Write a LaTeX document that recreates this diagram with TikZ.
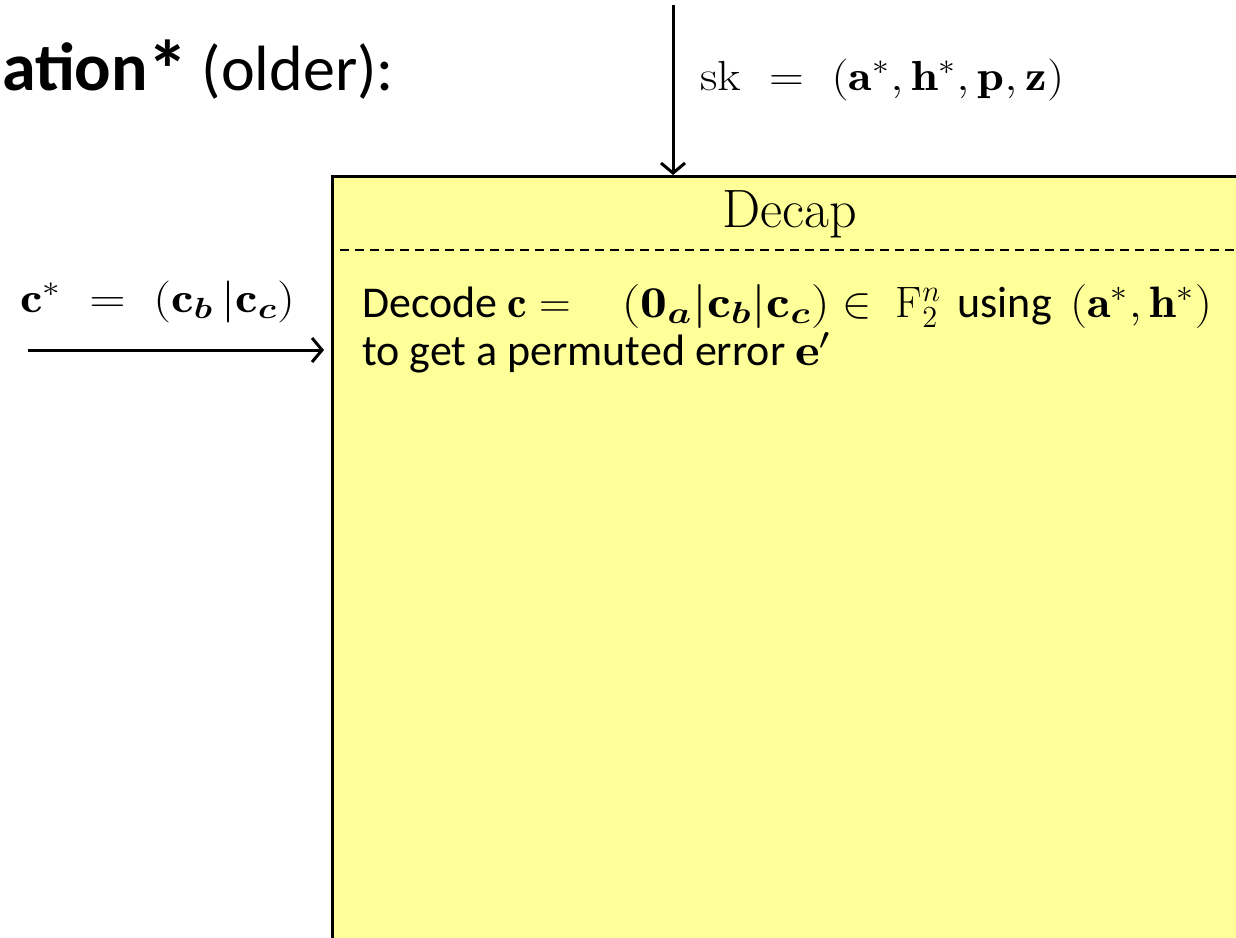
\RequirePackage{fix-cm}
\documentclass[tikz,border=0pt]{standalone}
\usepackage{amsmath}
\usepackage{bm}
\usepackage{fontspec}
\newfontfamily\calfont{Carlito}
\usetikzlibrary{arrows.meta}
\definecolor{boxyellow}{RGB}{255,255,153}
\tikzset{
  flow/.style={line width=3pt, -{Straight Barb[length=10pt,width=24pt,line width=3pt]}},
  lbl/.style={inner sep=0pt, anchor=base west},
  basefont/.style={font=\fontsize{20.74}{25}\selectfont},
}
\begin{document}
\begin{tikzpicture}[x=1pt,y=-1pt]
\useasboundingbox (0,0) rectangle (1236,937);
\clip (0,0) rectangle (1236,937);
% box
\node[draw, fill=boxyellow, line width=2.5pt, minimum width=1100pt, minimum height=900pt, anchor=north west, inner sep=0pt] (box) at (331,175) {};
% dashed separator
\coordinate (dl) at (340,250);
\coordinate (dr) at (1240,250);
\draw[line width=2.2pt, dash pattern=on 9pt off 6pt] (dl) -- (dr);
% title
\node[lbl, font=\calfont\fontsize{64}{76}\selectfont] (title) at (2,90) {{\fontsize{68}{80}\selectfont\bfseries ation}\raisebox{-8pt}{\fontsize{82}{82}\selectfont\bfseries *}\hspace{13pt}(older):};
% sk label and arrow
\node[lbl, basefont] (sk) at (700,90) {\scalebox{2.33}[2.025]{$\mathrm{sk}\ =\ (\mathbf{a}^{*},\mathbf{h}^{*},\mathbf{p},\mathbf{z})$}};
\coordinate (skin) at (673,5);
\draw[flow] (skin) -- (skin |- box.north);
% c* label and arrow
\node[lbl, basefont] (cstar) at (20,312) {\scalebox{2.43}[2.025]{$\mathbf{c}^{*}\;=\;(\mathbf{c}_{\bm{b}}\,|\mathbf{c}_{\bm{c}})$}};
\coordinate (cin) at (28,350);
\draw[flow, shorten >=7pt] (cin) -- (cin -| box.west);
% Decap title
\node[inner sep=0pt, anchor=base, font=\fontsize{54}{64}\selectfont] (decap) at (790,227) {Decap};
% body text
\node[lbl, font=\calfont\fontsize{20.74}{25}\selectfont] (line1) at (362,317) {\scalebox{2.12}{Decode $\mathbf{c}=$\hspace{24pt}$\scalebox{1.22}[1]{$(\mathbf{0}_{\bm{a}}|\mathbf{c}_{\bm{b}}|\mathbf{c}_{\bm{c}})$}\in\;\mathrm{F}_2^{n}$\hspace{3pt} using\hspace{4pt} \scalebox{1.1}[1]{$(\mathbf{a}^{*},\mathbf{h}^{*})$}}};
\node[lbl, font=\calfont\fontsize{20.74}{25}\selectfont] (line2) at (362,365) {\scalebox{2.12}{to get a permuted error \scalebox{1.2}[1]{$\mathbf{e}'$}}};
\end{tikzpicture}
\end{document}
